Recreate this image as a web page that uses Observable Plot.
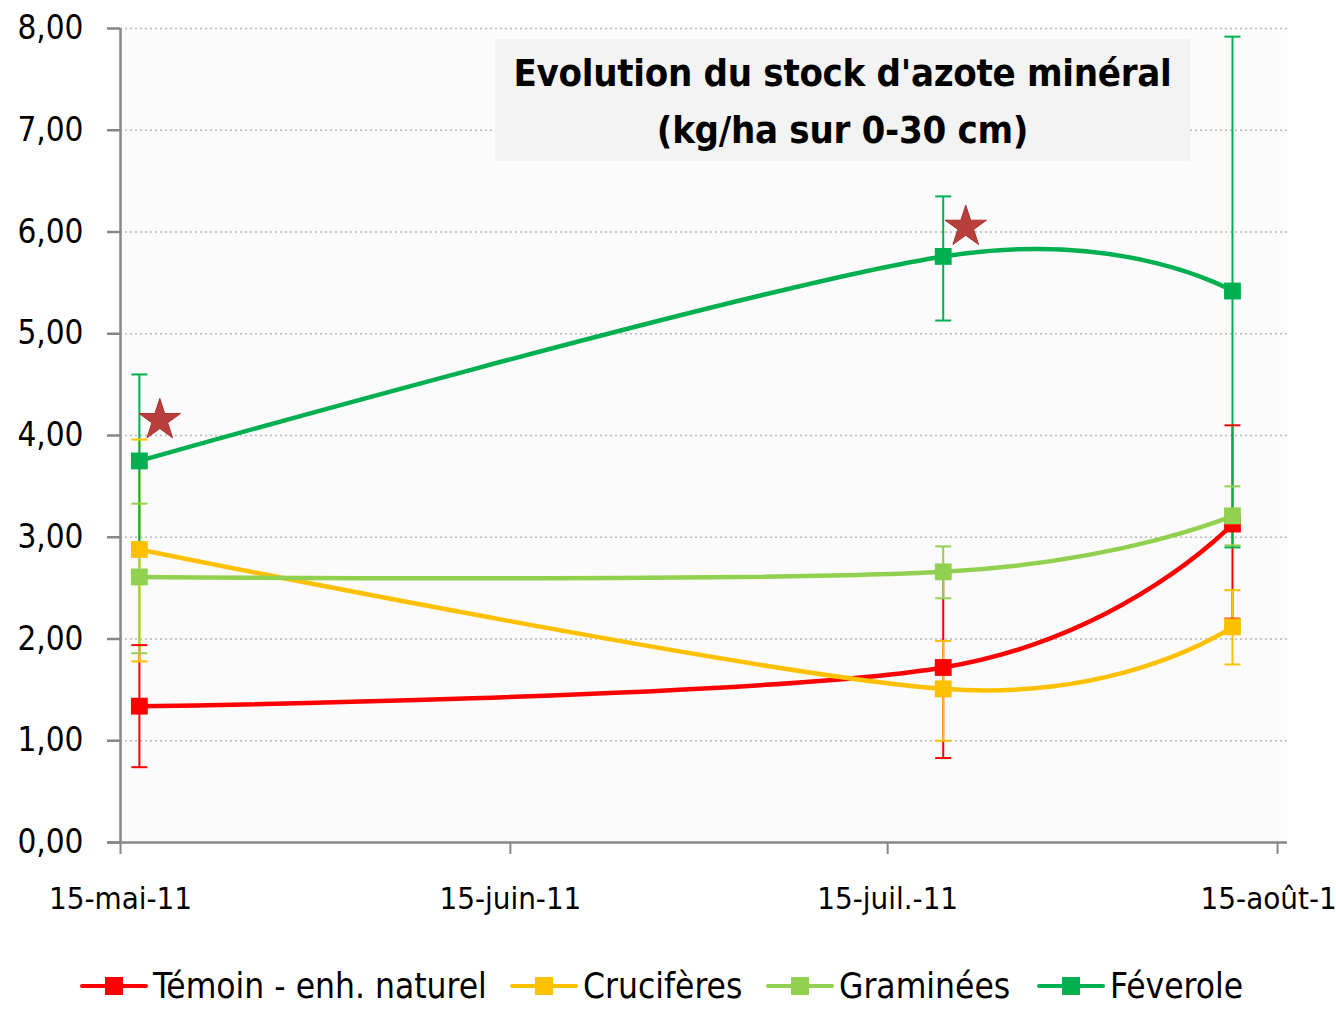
<!DOCTYPE html>
<html>
<head>
<meta charset="utf-8">
<script src="https://cdn.jsdelivr.net/npm/d3@7"></script>
<script src="https://cdn.jsdelivr.net/npm/@observablehq/plot@0.6"></script>
<style>
  html, body { margin: 0; padding: 0; background: #ffffff; overflow: hidden; }
  #wrap { position: relative; width: 1336px; height: 1009px; font-family: "DejaVu Sans Condensed", "DejaVu Sans", sans-serif; }
  #title { position: absolute; left: 495px; top: 39px; width: 695px; height: 122px; background: #f3f3f3;
           text-align: center; font-weight: bold; font-size: 38px; line-height: 57px; color: #000; padding-top: 6px;
           box-sizing: border-box; white-space: nowrap; letter-spacing: -0.3px; }
  #legend { position: relative; width: 1336px; height: 69px; font-size: 35px; color: #000; }
  .item { position: absolute; top: 22px; height: 48px; display: flex; align-items: center; }
  .item svg { margin-right: 5px; }
</style>
</head>
<body>
<div id="wrap">
  <div id="chart"></div>
  <div id="title">Evolution du stock d'azote minéral<br>(kg/ha sur 0-30 cm)</div>
  <div id="legend"></div>
</div>
<script>
// ---- data ----
const series = ["Témoin - enh. naturel", "Crucifères", "Graminées", "Féverole"];
const colors = ["#ff0000", "#ffc000", "#92d050", "#00b050"];
const sampleDates = ["2011-05-16T12:00Z", "2011-07-19T10:00Z", "2011-08-11T10:00Z"];

const temoin      = [1.34, 1.72, 3.13];
const temoinLow   = [0.74, 0.83, 2.20];
const temoinHigh  = [1.94, 2.62, 4.10];

const cruciferes     = [2.88, 1.51, 2.12];
const cruciferesLow  = [1.78, 1.00, 1.75];
const cruciferesHigh = [3.96, 1.98, 2.48];

const graminees     = [2.61, 2.66, 3.21];
const gramineesLow  = [1.86, 2.40, 2.92];
const gramineesHigh = [3.33, 2.91, 3.50];

const feverole     = [3.75, 5.76, 5.42];
const feveroleLow  = [2.88, 5.13, 2.90];
const feveroleHigh = [4.60, 6.35, 7.92];

const starDates  = ["2011-05-18T03:00Z", "2011-07-21T05:00Z"];
const starValues = [4.15, 6.05];

const yTicks = [0, 1, 2, 3, 4, 5, 6, 7, 8];
const xTickDates  = ["2011-05-15", "2011-06-15", "2011-07-15", "2011-08-15"];
const xTickLabels = ["15-mai-11", "15-juin-11", "15-juil.-11", "15-août-11"];
const xDomain = ["2011-05-15", "2011-08-15T19:00Z"];

// ---- build table ----
const values = [temoin, cruciferes, graminees, feverole];
const lows   = [temoinLow, cruciferesLow, gramineesLow, feveroleLow];
const highs  = [temoinHigh, cruciferesHigh, gramineesHigh, feveroleHigh];
const rows = series.flatMap((s, i) => sampleDates.map((d, j) => ({
  series: s, date: new Date(d), value: values[i][j], low: lows[i][j], high: highs[i][j]
})));
const stars = starDates.map((d, i) => ({date: new Date(d), value: starValues[i]}));
const tickDates = xTickDates.map(d => new Date(d));

const capSymbol = { draw(ctx, size) { const w = Math.sqrt(size / Math.PI); ctx.moveTo(-w, 0); ctx.lineTo(w, 0); } };
const fmtY = d => d.toFixed(2).replace(".", ",");
const FONT = '"DejaVu Sans Condensed", "DejaVu Sans", sans-serif';

const chart = Plot.plot({
  width: 1336, height: 940,
  marginLeft: 120, marginRight: 49, marginTop: 28, marginBottom: 98,
  style: {fontFamily: FONT, background: "white", color: "black"},
  x: {type: "utc", domain: xDomain.map(d => new Date(d))},
  y: {domain: [0, 8]},
  color: {domain: series, range: colors},
  marks: [
    Plot.frame({fill: "#fbfbfb", stroke: "none"}),
    Plot.gridY(yTicks.slice(1), {stroke: "#b8b8b8", strokeOpacity: 1, strokeDasharray: "2,3", strokeWidth: 1.5}),
    Plot.axisY({ticks: yTicks, tickFormat: fmtY, tickSize: 13, tickPadding: 24, fontSize: 33, stroke: "#878787", strokeWidth: 2.5, fill: "black", label: null}),
    Plot.axisX({ticks: tickDates, tickFormat: d => xTickLabels[tickDates.findIndex(t => +t === +d)], tickSize: 12, tickPadding: 32, fontSize: 31, stroke: "#878787", strokeWidth: 2, fill: "black", label: null}),
    Plot.ruleX([new Date(xDomain[0])], {stroke: "#878787", strokeWidth: 2.5}),
    Plot.ruleY([0], {stroke: "#878787", strokeWidth: 2.5, x1: new Date("2011-05-14T00:00Z"), x2: new Date(xDomain[1])}),
    Plot.ruleX(rows, {x: "date", y1: "low", y2: "high", stroke: "series", strokeWidth: 2}),
    Plot.dot(rows, {x: "date", y: "low", symbol: capSymbol, r: 8, stroke: "series", strokeWidth: 2, fill: "none"}),
    Plot.dot(rows, {x: "date", y: "high", symbol: capSymbol, r: 8, stroke: "series", strokeWidth: 2, fill: "none"}),
    Plot.line(rows, {x: "date", y: "value", z: "series", stroke: "series", curve: "cardinal", strokeWidth: 4.5}),
    Plot.dot(rows, {x: "date", y: "value", symbol: "square", fill: "series", r: 9.5}),
    Plot.dot(stars, {x: "date", y: "value", symbol: "star", r: 13, fill: "#b93f3c", stroke: "#a8302e", strokeWidth: 1})
  ]
});
document.getElementById("chart").appendChild(chart);

// ---- legend ----
const legend = document.getElementById("legend");
const itemLefts = [80, 510, 766, 1037];
series.forEach((s, i) => {
  const item = document.createElement("div");
  item.className = "item";
  item.style.left = itemLefts[i] + "px";
  item.innerHTML = `<svg width="68" height="20"><line x1="2" x2="66" y1="10" y2="10" stroke="${colors[i]}" stroke-width="4" stroke-linecap="round"/><rect x="25" y="1" width="18" height="18" fill="${colors[i]}"/></svg><span>${s}</span>`;
  legend.appendChild(item);
});
</script>
</body>
</html>
